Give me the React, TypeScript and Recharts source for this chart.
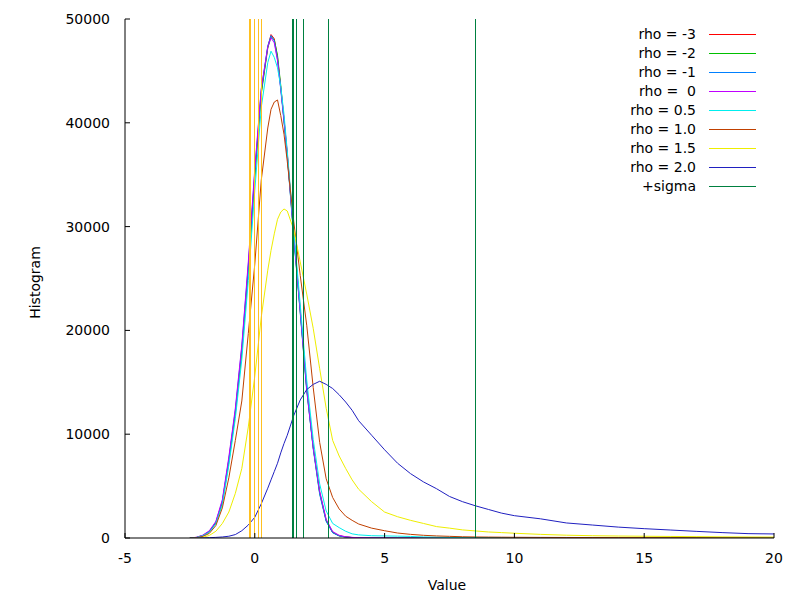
import React from "react";
import { LineChart, Line, XAxis, YAxis, ReferenceLine } from "recharts";

const xs = [
  -2.5, -2.25, -2, -1.75, -1.5, -1.25, -1, -0.75, -0.5, -0.25, 0,
  0.25, 0.5, 0.625, 0.75, 0.875, 1, 1.125, 1.25,
  1.5, 1.75, 2, 2.25, 2.5, 2.75, 3, 3.25, 3.5, 3.75, 4,
  4.5,
  5, 5.5, 6, 6.5, 7, 7.5, 8, 8.5, 9, 9.5, 10,
  11, 12, 13, 14, 15, 16, 17, 18, 19, 20,
];

const rhoM3 = [
  0, 60, 250, 650, 1500, 3500, 7500, 12100, 18100, 26000, 35000,
  43000, 47300, 48500, 48100, 46300, 43400, 40400, 37100,
  29300, 22000, 14500, 8800, 4400, 1700, 550, 220, 100, 50, 30,
  10,
  5, 0, 0, 0, 0, 0, 0, 0, 0, 0, 0,
  0, 0, 0, 0, 0, 0, 0, 0, 0, 0,
];
const rhoM2 = [
  0, 40, 220, 620, 1450, 3400, 7300, 12000, 17900, 25800, 34700,
  42800, 47200, 48300, 48000, 46500, 43600, 40200, 36900,
  29100, 21800, 14300, 8700, 4300, 1650, 520, 200, 90, 40, 20,
  10,
  0, 0, 0, 0, 0, 0, 0, 0, 0, 0, 0,
  0, 0, 0, 0, 0, 0, 0, 0, 0, 0,
];
const rhoM1 = [
  0, 50, 240, 640, 1520, 3550, 7600, 12300, 18400, 26300, 35300,
  43200, 47400, 48400, 47900, 46100, 43200, 40100, 36800,
  29000, 21700, 14200, 8600, 4200, 1600, 500, 200, 90, 40, 20,
  10,
  0, 0, 0, 0, 0, 0, 0, 0, 0, 0, 0,
  0, 0, 0, 0, 0, 0, 0, 0, 0, 0,
];
const rho0 = [
  0, 70, 280, 700, 1600, 3700, 7800, 12500, 18600, 26600, 35600,
  43300, 47300, 48200, 47700, 46000, 43300, 40300, 37000,
  29200, 21900, 14400, 8700, 4500, 1800, 620, 260, 120, 60, 30,
  10,
  5, 0, 0, 0, 0, 0, 0, 0, 0, 0, 0,
  0, 0, 0, 0, 0, 0, 0, 0, 0, 0,
];
const rho05 = [
  0, 50, 220, 550, 1350, 3200, 7000, 11500, 17200, 24800, 33500,
  41500, 45800, 46900, 46300, 45300, 43500, 40800, 37300,
  29700, 22500, 15200, 9500, 5200, 2600, 1400, 1000, 650, 400, 300,
  220,
  200, 180, 150, 100, 80, 60, 50, 40, 40, 35, 30,
  30, 30, 25, 25, 20, 20, 20, 15, 15, 15,
];
const rho10 = [
  0, 30, 150, 450, 1200, 2900, 5800, 9400, 13200, 19700, 26400,
  34500, 39500, 41300, 42000, 42200, 40700, 38900, 36300,
  30500, 25300, 20500, 14500, 9200, 5700, 3900, 2800, 2100, 1700, 1350,
  950,
  700, 480, 350, 260, 200, 160, 120, 100, 90, 80, 70,
  60, 50, 45, 40, 35, 30, 30, 25, 25, 20,
];
const rho15 = [
  0, 10, 60, 250, 650, 1400, 2500, 4300, 6700, 10700, 15600,
  21300, 25800, 27700, 29300, 30700, 31400, 31700, 31500,
  29700, 26600, 23500, 20200, 16300, 12500, 9400, 7900, 6700, 5600, 4700,
  3500,
  2500, 2050, 1700, 1400, 1100, 950, 780, 680, 580, 520, 460,
  350, 270, 220, 190, 170, 150, 130, 110, 100, 90,
];
const rho20 = [
  0, 0, 10, 30, 60, 100, 170, 330, 700, 1250, 2000,
  3300, 4800, 5600, 6400, 7200, 8200, 9100, 9900,
  11800, 13300, 14300, 14800, 15100, 14800, 14400, 13800, 13100, 12300, 11300,
  9900,
  8500, 7200, 6200, 5400, 4750, 4000, 3500, 3100, 2750, 2400, 2150,
  1850, 1450, 1250, 1050, 900, 770, 640, 520, 420, 390,
];

const minusSigma = [-0.19, -0.17, -0.15, -0.03, 0.15, 0.27];
const plusSigma = [1.46, 1.5, 1.59, 1.86, 2.82, 8.51];

const xTicks = [-5, 0, 5, 10, 15, 20];
const yTicks = [0, 10000, 20000, 30000, 40000, 50000];

const series = [
  { key: "m3", label: "rho = -3", color: "#ff0000", values: rhoM3 },
  { key: "m2", label: "rho = -2", color: "#00c000", values: rhoM2 },
  { key: "m1", label: "rho = -1", color: "#0080ff", values: rhoM1 },
  { key: "z0", label: "rho =  0", color: "#c000ff", values: rho0 },
  { key: "p05", label: "rho = 0.5", color: "#00eeee", values: rho05 },
  { key: "p10", label: "rho = 1.0", color: "#c04000", values: rho10 },
  { key: "p15", label: "rho = 1.5", color: "#eeee00", values: rho15 },
  { key: "p20", label: "rho = 2.0", color: "#2020c0", values: rho20 },
];
const sigmaLegend = { label: "+sigma", color: "#008040" };
const minusColor = "#ffc020";

const data = xs.map((x, i) => {
  const row: Record<string, number> = { x };
  series.forEach((s) => {
    row[s.key] = s.values[i];
  });
  return row;
});

const FONT = "'DejaVu Sans', sans-serif";
const emptyTick = () => <g />;

export default function App() {
  const legendRows = [...series.map((s) => ({ label: s.label, color: s.color })), sigmaLegend];
  return (
    <div style={{ position: "absolute", left: 0, top: 0, width: 800, height: 600, background: "#fff", fontFamily: FONT }}>
      <LineChart
        width={800}
        height={600}
        data={data}
        margin={{ top: 19, right: 26, bottom: 22, left: 65 }}
      >
        <XAxis
          dataKey="x"
          type="number"
          domain={[-5, 20]}
          ticks={xTicks}
          interval={0}
          allowDataOverflow
          height={40}
          tickSize={-5}
          tickMargin={20}
          axisLine={{ stroke: "#000" }}
          tickLine={{ stroke: "#000" }}
          tick={{ fill: "#000", fontSize: 14, fontFamily: FONT }}
        />
        <XAxis
          xAxisId="top"
          orientation="top"
          type="number"
          domain={[-5, 20]}
          ticks={xTicks}
          interval={0}
          allowDataOverflow
          height={0}
          tickSize={-5}
          axisLine={{ stroke: "#000" }}
          tickLine={{ stroke: "#000" }}
          tick={emptyTick}
        />
        <YAxis
          type="number"
          domain={[0, 50000]}
          ticks={yTicks}
          interval={0}
          allowDataOverflow
          width={60}
          tickSize={-5}
          tickMargin={20}
          axisLine={{ stroke: "#000" }}
          tickLine={{ stroke: "#000" }}
          tick={{ fill: "#000", fontSize: 14, fontFamily: FONT }}
        />
        <YAxis
          yAxisId="right"
          orientation="right"
          type="number"
          domain={[0, 50000]}
          ticks={yTicks}
          interval={0}
          allowDataOverflow
          width={0}
          tickSize={-5}
          axisLine={{ stroke: "#000" }}
          tickLine={{ stroke: "#000" }}
          tick={emptyTick}
        />
        {series.map((s) => (
          <Line
            key={s.key}
            dataKey={s.key}
            type="linear"
            stroke={s.color}
            strokeWidth={1}
            dot={false}
            activeDot={false}
            isAnimationActive={false}
          />
        ))}
        {minusSigma.map((v, i) => (
          <ReferenceLine key={"m" + i} x={v} stroke={minusColor} strokeWidth={1} shapeRendering="crispEdges" />
        ))}
        {plusSigma.map((v, i) => (
          <ReferenceLine key={"p" + i} x={v} stroke={sigmaLegend.color} strokeWidth={1} shapeRendering="crispEdges" />
        ))}
      </LineChart>
      <svg
        width={800}
        height={600}
        style={{ position: "absolute", left: 0, top: 0, pointerEvents: "none" }}
      >
        <text x={447} y={590} textAnchor="middle" fontSize={14} fontFamily={FONT} fill="#000">
          Value
        </text>
        <text transform="translate(40,282.5) rotate(-90)" textAnchor="middle" fontSize={14} fontFamily={FONT} fill="#000">
          Histogram
        </text>
        {legendRows.map((r, i) => {
          const y = 34 + i * 19;
          return (
            <g key={r.label}>
              <text x={696} y={y + 5} textAnchor="end" fontSize={14} fontFamily={FONT} fill="#000" style={{ whiteSpace: "pre" }}>
                {r.label}
              </text>
              <line x1={709} x2={756} y1={y + 0.5} y2={y + 0.5} stroke={r.color} strokeWidth={1} shapeRendering="crispEdges" />
            </g>
          );
        })}
      </svg>
    </div>
  );
}
